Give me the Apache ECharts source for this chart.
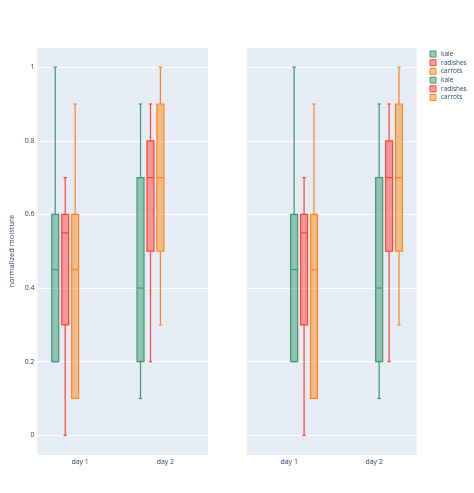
<!DOCTYPE html>
<html>
<head>
<meta charset="utf-8">
<script src="https://cdn.jsdelivr.net/npm/echarts@6/dist/echarts.min.js"></script>
<style>
html,body{margin:0;padding:0;background:#fff;}
#chart{width:474px;height:493px;}
</style>
</head>
<body>
<div id="chart"></div>
<script>
// Categories
const categories = ['day 1', 'day 2'];
// Box stats per category: [min, q1, median, q3, max]
const kale = [[0.2, 0.2, 0.45, 0.6, 1.0], [0.1, 0.2, 0.4, 0.7, 0.9]];
const radishes = [[0.0, 0.3, 0.55, 0.6, 0.7], [0.2, 0.5, 0.7, 0.8, 0.9]];
const carrots = [[0.1, 0.1, 0.45, 0.6, 0.9], [0.3, 0.5, 0.7, 0.9, 1.0]];
const seriesNames = ['kale', 'radishes', 'carrots'];
const yTickLabels = ['0', '0.2', '0.4', '0.6', '0.8', '1'];

const colors = ['#3D9970', '#FF4136', '#FF851B'];
const fills = ['rgba(61,153,112,0.5)', 'rgba(255,65,54,0.5)', 'rgba(255,133,27,0.5)'];
const allData = [kale, radishes, carrots];
const textColor = '#2a3f5f';
const font = '"Open Sans", "Noto Sans", sans-serif';

function makeRender(slot, color, fill) {
  return function (params, api) {
    const cat = api.value(0);
    const pMed = api.coord([cat, api.value(3)]);
    const band = api.size([1, 0])[0];
    const slotW = band * 0.7 / 6;
    const cx = pMed[0] + (slot - 2.5) * slotW;
    const bw = slotW * 0.7;
    const capW = bw * 0.5;
    const yMin = api.coord([cat, api.value(1)])[1];
    const yQ1 = api.coord([cat, api.value(2)])[1];
    const yMed = pMed[1];
    const yQ3 = api.coord([cat, api.value(4)])[1];
    const yMax = api.coord([cat, api.value(5)])[1];
    const ls = { stroke: color, lineWidth: 1.2, fill: null };
    const children = [
      { type: 'line', shape: { x1: cx, y1: yQ3, x2: cx, y2: yMax }, style: ls },
      { type: 'line', shape: { x1: cx, y1: yQ1, x2: cx, y2: yMin }, style: ls },
      { type: 'line', shape: { x1: cx - capW / 2, y1: yMax, x2: cx + capW / 2, y2: yMax }, style: ls },
      { type: 'line', shape: { x1: cx - capW / 2, y1: yMin, x2: cx + capW / 2, y2: yMin }, style: ls },
      { type: 'rect', shape: { x: cx - bw / 2, y: yQ3, width: bw, height: yQ1 - yQ3 },
        style: { fill: fill, stroke: color, lineWidth: 1.2 } },
      { type: 'line', shape: { x1: cx - bw / 2, y1: yMed, x2: cx + bw / 2, y2: yMed }, style: ls }
    ];
    return { type: 'group', children: children };
  };
}

const series = [];
const legendData = [];
for (let g = 0; g < 2; g++) {
  for (let s = 0; s < 3; s++) {
    const name = seriesNames[s] + (g === 1 ? ' ' : '');
    const slot = g * 3 + s;
    series.push({
      type: 'custom',
      name: name,
      xAxisIndex: g,
      yAxisIndex: g,
      renderItem: makeRender(slot, colors[s], fills[s]),
      itemStyle: { color: fills[s], borderColor: colors[s], borderWidth: 1 },
      encode: { x: 0, y: [1, 2, 3, 4, 5] },
      data: allData[s].map((v, i) => [i].concat(v)),
      silent: true
    });
    legendData.push({ name: name, itemStyle: { color: fills[s], borderColor: colors[s], borderWidth: 1 } });
  }
}

function yAxis(idx, showLabels) {
  return {
    type: 'value',
    gridIndex: idx,
    min: -0.0535,
    max: 1.054,
    splitNumber: 5,
    name: showLabels ? 'normalized moisture' : '',
    nameLocation: 'middle',
    nameRotate: 90,
    nameGap: 22,
    nameTextStyle: { color: textColor, fontSize: 7.5, fontFamily: font },
    axisLine: { show: false },
    axisTick: { show: false },
    axisLabel: {
      show: showLabels, color: textColor, fontSize: 7, fontFamily: font, margin: 3,
      showMinLabel: false, showMaxLabel: false,
      formatter: function (v) {
        const i = Math.round(v / 0.2);
        return (Math.abs(v - i * 0.2) < 1e-6 && yTickLabels[i] !== undefined) ? yTickLabels[i] : '';
      }
    },
    splitLine: { show: true, lineStyle: { color: '#ffffff', width: 1 } }
  };
}

function xAxis(idx) {
  return {
    type: 'category',
    gridIndex: idx,
    data: categories,
    boundaryGap: true,
    axisLine: { show: false },
    axisTick: { show: false },
    splitLine: { show: false },
    axisLabel: { color: textColor, fontSize: 7, fontFamily: font, margin: 3 }
  };
}

const chart = echarts.init(document.getElementById('chart'), null, { renderer: 'canvas' });
chart.setOption({
  backgroundColor: '#ffffff',
  animation: false,
  grid: [
    { left: 37.5, top: 47.3, width: 170.5, height: 407.7, show: true, backgroundColor: '#E5ECF6', borderWidth: 0, containLabel: false },
    { left: 246.7, top: 47.3, width: 170, height: 407.7, show: true, backgroundColor: '#E5ECF6', borderWidth: 0, containLabel: false }
  ],
  xAxis: [xAxis(0), xAxis(1)],
  yAxis: [yAxis(0, true), yAxis(1, false)],
  legend: {
    orient: 'vertical',
    left: 429.5,
    top: 50,
    padding: 0,
    itemWidth: 6,
    itemHeight: 6,
    itemGap: 0.7,
    icon: 'rect',
    selectedMode: false,
    data: legendData,
    formatter: function (n) { return n.trim(); },
    textStyle: { color: textColor, fontSize: 6.5, fontFamily: font, lineHeight: 8, padding: [0, 0, 0, 0] }
  },
  series: series
});
</script>
</body>
</html>
